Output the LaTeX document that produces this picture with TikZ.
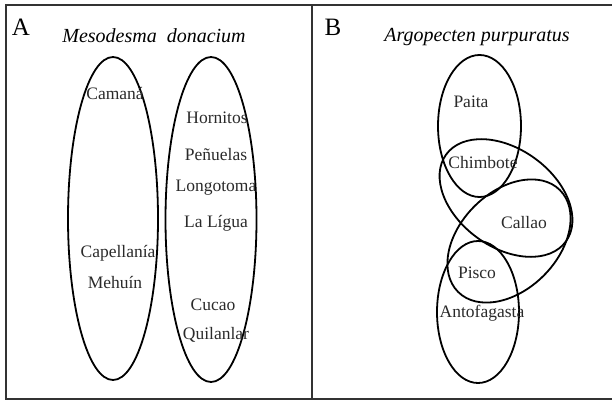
\documentclass[tikz,border=0pt]{standalone}
\usepackage{fontspec}
\setmainfont{Liberation Serif}
\usepackage{tikz}
\usetikzlibrary{positioning,shapes.geometric}
\definecolor{framegray}{HTML}{333333}
\definecolor{inkgray}{HTML}{2A2A2A}
\tikzset{
  % rammar
  frameline/.style={draw=framegray,line width=2pt},
  panel/.style={font=\fontsize{25}{25}\selectfont,inner sep=0pt},
  species/.style={font=\fontsize{20}{20}\selectfont\itshape,inner sep=0pt},
  % ellipser
  ring/.style={ellipse,draw=black,line width=1.8pt,inner sep=0pt,outer sep=0pt},
  site/.style={font=\fontsize{17.5}{17.5}\selectfont,text=inkgray,inner sep=0pt},
}
\begin{document}
\begin{tikzpicture}[x=1pt,y=-1pt]
  \useasboundingbox (0,0) rectangle (612,401);
  \draw[frameline] (614,5) -- (6,5) -- (6,399) -- (614,399);
  \draw[frameline] (312,5) -- (312,399);
  % A
  \node[panel] (lblA) at (21,27) {A};
  \node[species] (mdon) at (154,36) {Mesodesma\ \ donacium};
  \node[ring,minimum width=90pt,minimum height=323pt] (ringN) at (113,218.5) {};
  \node[ring,minimum width=91pt,minimum height=325pt] (ringS) at (211,219.5) {};
  \node[site] (camana) at (115,94) {Camaná};
  \node[site] (capell) at (118,253) {Capellanía};
  \node[site] (mehuin) at (115,282) {Mehuín};
  \node[site] (hornit) at (217,118) {Hornitos};
  \node[site] (penuel) at (216,155) {Peñuelas};
  \node[site] (longot) at (216,188) {Longotoma};
  \node[site] (ligua) at (216,223) {La Lígua};
  \node[site] (cucao) at (213,305) {Cucao};
  \node[site] (quilan) at (216,335) {Quilanlar};
  % B
  \node[panel] (lblB) at (333,27) {B};
  \node[species] (apur) at (477,37) {Argopecten purpuratus};
  \node[ring,minimum width=83pt,minimum height=142pt] (ringPa) at (479.5,126) {};
  \node[ring,minimum width=148pt,minimum height=98pt,rotate=-36] (ringCh) at (506,198) {};
  \node[ring,minimum width=144pt,minimum height=98pt,rotate=45] (ringPi) at (509,241) {};
  \node[ring,minimum width=82pt,minimum height=142pt] (ringAn) at (478,312) {};
  \node[site] (paita) at (471,102) {Paita};
  \node[site] (chimb) at (483,163) {Chimbote};
  \node[site] (callao) at (524,223) {Callao};
  \node[site] (pisco) at (477,273) {Pisco};
  \node[site] (antof) at (482,313) {Antofagasta};
\end{tikzpicture}
\end{document}
